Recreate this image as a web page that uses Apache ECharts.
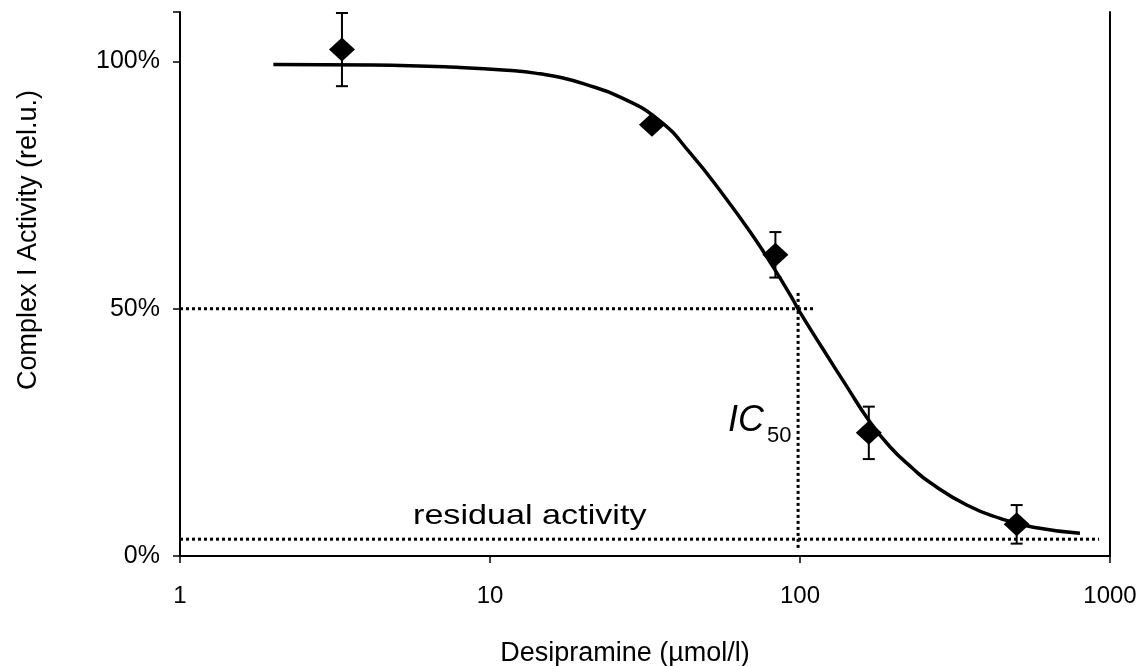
<!DOCTYPE html>
<html>
<head>
<meta charset="utf-8">
<script src="https://cdn.jsdelivr.net/npm/echarts@6/dist/echarts.min.js"></script>
<style>
  html, body { margin: 0; padding: 0; background: #fff; }
  #chart { width: 1144px; height: 666px; }
</style>
</head>
<body>
<div id="chart"></div>
<script>
// ---- data ----
const pointX = [3.33, 33.3, 83.3, 166.7, 500];          // Desipramine (µmol/l)
const pointY = [102.4, 87.2, 60.9, 24.9, 6.4];           // activity (%)
const pointErr = [7.4, 0.5, 4.6, 5.3, 3.9];              // error (± %)

const curveX = [2, 4.2, 8, 12, 14.5, 16.8, 20, 26.3, 35.3, 44.2, 56.6, 70.7, 82, 95, 98.8, 119, 141.5, 166, 195, 232, 262, 345, 442, 566, 800];
const curveY = [99.4, 99.3, 98.8, 98.1, 97.5, 96.8, 95.5, 92.8, 88.0, 81.5, 73.0, 64.6, 58.4, 51.8, 49.8, 41.7, 34.3, 27.6, 22.1, 17.6, 14.9, 10.3, 7.6, 5.8, 4.6];

const halfLine = [[1, 50], [112, 50]];          // 50% guide
const ic50Line = [[98.6, 53.2], [98.6, 1.2]];    // IC50 guide
const residualLine = [[1, 3.4], [922, 3.4]];     // residual activity guide

const yTicks = [0, 50, 100];
const xTickLabels = ['1', '10', '100', '1000'];

const FONT = '"Liberation Sans", Arial, sans-serif';
const chart = echarts.init(document.getElementById('chart'));

const dotted = { color: '#000', width: 3, type: [3, 3] };

chart.setOption({
  animation: false,
  backgroundColor: '#fff',
  grid: { left: 180, right: 34, top: 12, bottom: 110, containLabel: false, outerBoundsMode: 'none' },
  xAxis: {
    type: 'log', logBase: 10, min: 1, max: 1000,
    name: 'Desipramine (\u00b5mol/l)', nameLocation: 'middle', nameGap: 84,
    nameTextStyle: { fontFamily: FONT, fontSize: 27, color: '#000', padding: [0, 40, 0, 0] },
    axisLine: { lineStyle: { color: '#000', width: 2 } },
    axisTick: { show: true, length: 7, lineStyle: { color: '#000', width: 1.5 } },
    minorTick: { show: false },
    splitLine: { show: false },
    axisLabel: { fontFamily: FONT, fontSize: 24, color: '#000', margin: 28,
      formatter: v => { const i = Math.round(Math.log10(v)); return xTickLabels[i] ?? ''; } }
  },
  yAxis: [{
    type: 'value', min: 0, max: 110, interval: 50,
    name: 'Complex I Activity (rel.u.)', nameLocation: 'middle', nameGap: 138, nameRotate: 90,
    nameTextStyle: { fontFamily: FONT, fontSize: 27, color: '#000', padding: [0, 0, 0, 88] },
    axisLine: { show: true, lineStyle: { color: '#000', width: 2 } },
    axisTick: { show: true, inside: false, length: 7, lineStyle: { color: '#000', width: 1.5 } },
    splitLine: { show: false },
    axisLabel: { fontFamily: FONT, fontSize: 25, color: '#000', margin: 20,
      formatter: v => yTicks.includes(v) ? v + '%' : '' }
  }, {
    type: 'value', min: 0, max: 110, position: 'right',
    axisLine: { show: true, lineStyle: { color: '#000', width: 2 } },
    axisTick: { show: false }, axisLabel: { show: false }, splitLine: { show: false }
  }],
  series: [
    { type: 'line', data: halfLine, symbol: 'none', lineStyle: dotted, z: 2, silent: true },
    { type: 'line', data: ic50Line, symbol: 'none', lineStyle: dotted, z: 2, silent: true },
    { type: 'line', data: residualLine, symbol: 'none', lineStyle: dotted, z: 2, silent: true },
    {
      type: 'line', data: curveX.map((x, i) => [x, curveY[i]]), smooth: 0.5,
      symbol: 'none', lineStyle: { color: '#000', width: 3.5 }, z: 3
    },
    {
      type: 'custom', z: 4,
      encode: { x: 0, y: [1, 2] },
      data: pointX.map((x, i) => [x, pointY[i] - pointErr[i], pointY[i] + pointErr[i]]),
      renderItem: (params, api) => {
        const x = api.value(0);
        const lo = api.coord([x, api.value(1)]);
        const hi = api.coord([x, api.value(2)]);
        const w = 6, st = { stroke: '#000', lineWidth: 2 };
        return { type: 'group', children: [
          { type: 'line', shape: { x1: lo[0], y1: lo[1], x2: hi[0], y2: hi[1] }, style: st },
          { type: 'line', shape: { x1: lo[0] - w, y1: lo[1], x2: lo[0] + w, y2: lo[1] }, style: st },
          { type: 'line', shape: { x1: hi[0] - w, y1: hi[1], x2: hi[0] + w, y2: hi[1] }, style: st }
        ]};
      }
    },
    {
      type: 'scatter', data: pointX.map((x, i) => [x, pointY[i]]),
      symbol: 'diamond', symbolSize: [26, 24], itemStyle: { color: '#000', opacity: 1 }, z: 5
    }
  ],
  graphic: [
    { type: 'text', x: 413, y: 516, z: 10, scaleX: 1.22,
      style: { text: 'residual activity', fontFamily: FONT, fontSize: 28, fill: '#000', verticalAlign: 'middle', align: 'left' } },
    { type: 'text', x: 728, y: 421, z: 10,
      style: { text: 'IC', fontFamily: FONT, fontSize: 36, fontStyle: 'italic', fill: '#000', verticalAlign: 'middle', align: 'left' } },
    { type: 'text', x: 767, y: 436, z: 10,
      style: { text: '50', fontFamily: FONT, fontSize: 22, fill: '#000', verticalAlign: 'middle', align: 'left' } }
  ]
});
</script>
</body>
</html>
